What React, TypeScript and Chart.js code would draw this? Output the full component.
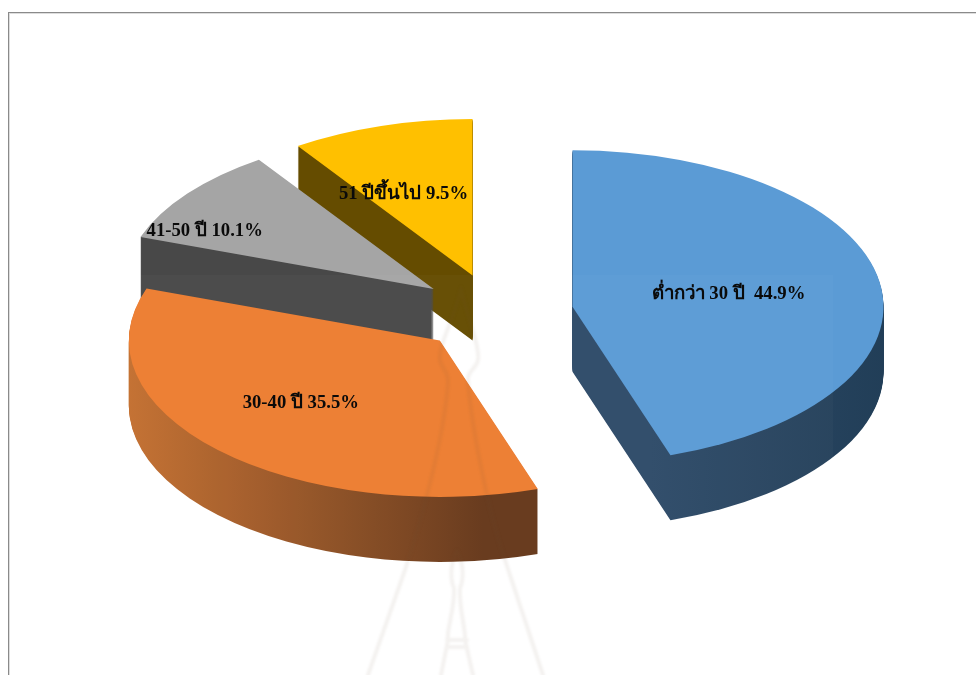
import { useEffect, useRef } from "react";
import { Chart, registerables } from "chart.js";

Chart.register(...registerables);

// Age groups and their shares, in percent
const ageGroups = ["ต่ำกว่า 30 ปี ", "30-40 ปี", "41-50 ปี", "51 ปีขึ้นไป"];
const shares = [44.9, 35.5, 10.1, 9.5];

const topColors = ["#5B9BD5", "#ED7D31", "#A5A5A5", "#FFC000"];
const wallColorsLeft = ["#2F4B69", "#D27834", "#484848", "#654C00"];
const wallColorsRight = ["#1D3A52", "#66381A", "#484848", "#654C00"];

// Label shift from each slice's apex, in pixels on the page
const labelShifts = [
  [156, -13],
  [-139, 63],
  [-229, -58],
  [-69, -81],
];
const paintOrder = [3, 2, 1, 0];

const TILT = 0.503;
const DEPTH = 65;
const EXPLODE = 78;

const pie3d = {
  id: "pie3d",
  beforeDatasetDraw(chart: any) {
    const ctx: CanvasRenderingContext2D = chart.ctx;
    const arcs = chart.getDatasetMeta(0).data;

    const apex = (arc: any) => {
      const half = (arc.startAngle + arc.endAngle) / 2;
      return {
        dx: Math.cos(half) * EXPLODE,
        dy: Math.sin(half) * EXPLODE,
      };
    };

    const drawSlice = (arc: any, fill: any, lift: number) => {
      const { dx, dy } = apex(arc);
      const saved = arc.options;
      arc.options = Object.assign(Object.create(saved), {
        backgroundColor: fill,
        borderWidth: 0,
      });
      ctx.save();
      ctx.translate(0, lift + arc.y);
      ctx.scale(1, TILT);
      ctx.translate(dx, dy - arc.y);
      arc.draw(ctx);
      ctx.restore();
      arc.options = saved;
    };

    for (const i of paintOrder) {
      const arc = arcs[i];
      const { dx } = apex(arc);
      const R = arc.outerRadius;
      const wall = ctx.createLinearGradient(
        i === 0 ? arc.x + dx : arc.x + dx - R,
        0,
        i === 0 ? arc.x + dx + R : arc.x + dx + R * 0.316,
        0
      );
      wall.addColorStop(0, wallColorsLeft[i]);
      wall.addColorStop(1, wallColorsRight[i]);
      for (let d = DEPTH; d >= 1; d--) drawSlice(arc, wall, d);
      drawSlice(arc, topColors[i], 0);
    }

    // Faint seal printed over the page: lightened sheet, then the stupa outline
    ctx.save();
    ctx.fillStyle = "rgba(255,255,255,0.025)";
    ctx.fillRect(81, 275, 752, 400);
    ctx.filter = "blur(1px)";
    ctx.lineCap = "round";
    ctx.lineJoin = "round";
    ctx.lineWidth = 4;
    ctx.strokeStyle = "rgba(110,85,60,0.075)";
    ctx.beginPath();
    ctx.moveTo(461, 288);
    ctx.bezierCurveTo(456, 315, 438, 345, 440, 360);
    ctx.bezierCurveTo(441, 368, 449, 372, 448, 382);
    ctx.bezierCurveTo(445, 430, 425, 510, 405, 570);
    ctx.lineTo(368, 675);
    ctx.moveTo(461, 288);
    ctx.bezierCurveTo(466, 315, 480, 345, 478, 360);
    ctx.bezierCurveTo(477, 368, 466, 372, 468, 382);
    ctx.bezierCurveTo(472, 430, 488, 510, 505, 560);
    ctx.lineTo(543, 675);
    ctx.moveTo(457, 551);
    ctx.bezierCurveTo(449, 565, 451, 582, 454, 588);
    ctx.bezierCurveTo(455, 610, 446, 630, 448, 640);
    ctx.lineTo(441, 675);
    ctx.moveTo(457, 551);
    ctx.bezierCurveTo(465, 565, 463, 582, 460, 588);
    ctx.bezierCurveTo(459, 610, 466, 630, 465, 640);
    ctx.lineTo(473, 675);
    ctx.moveTo(447, 640);
    ctx.lineTo(467, 640);
    ctx.moveTo(447, 647);
    ctx.lineTo(467, 647);
    ctx.stroke();
    ctx.restore();

    // Value labels on the slices
    ctx.save();
    ctx.font = 'bold 18.7px "Liberation Serif", "Noto Sans", serif';
    ctx.fillStyle = "#0a0a0a";
    ctx.textAlign = "center";
    ctx.textBaseline = "middle";
    arcs.forEach((arc: any, i: number) => {
      const { dx, dy } = apex(arc);
      const x = arc.x + dx + labelShifts[i][0];
      const y = arc.y + dy * TILT + labelShifts[i][1];
      ctx.fillText(`${ageGroups[i]} ${shares[i].toFixed(1)}%`, x, y);
    });
    ctx.restore();
    return false;
  },
};

export default function App() {
  const ref = useRef<HTMLCanvasElement>(null);

  useEffect(() => {
    const chart = new Chart(ref.current as HTMLCanvasElement, {
      type: "pie",
      data: {
        labels: ageGroups,
        datasets: [{ data: shares, backgroundColor: topColors, borderWidth: 0 }],
      },
      options: {
        animation: false,
        responsive: false,
        radius: 311,
        layout: { padding: { left: 15, right: 0, top: 0, bottom: 49 } },
        plugins: { legend: { display: false }, tooltip: { enabled: false } },
      } as any,
      plugins: [pie3d],
    });
    return () => chart.destroy();
  }, []);

  return (
    <div style={{ position: "fixed", inset: 0, overflow: "hidden", background: "#fff" }}>
      <canvas ref={ref} width={976} height={675} style={{ position: "absolute", left: 0, top: 0 }} />
      <div
        style={{
          position: "absolute",
          left: 8,
          top: 12,
          right: -4,
          bottom: -4,
          borderTop: "1px solid #8a8a8a",
          borderLeft: "1px solid #8a8a8a",
          boxShadow: "inset 1px 1px 0 #dddddd",
          pointerEvents: "none",
        }}
      />
    </div>
  );
}
